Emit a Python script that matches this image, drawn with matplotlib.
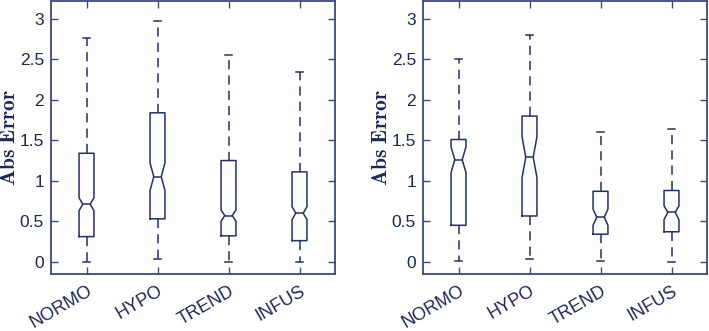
import matplotlib
matplotlib.use('Agg')
import matplotlib.pyplot as plt
from matplotlib.transforms import ScaledTranslation
from matplotlib.ticker import FormatStrFormatter

categories = ['NORMO', 'HYPO', 'TREND', 'INFUS']

# Left panel
left_whislo = [0.00, 0.03, 0.00, 0.00]
left_q1 = [0.31, 0.53, 0.32, 0.26]
left_cilo = [0.63, 0.88, 0.50, 0.52]
left_med = [0.71, 1.05, 0.57, 0.60]
left_cihi = [0.79, 1.22, 0.64, 0.68]
left_q3 = [1.34, 1.84, 1.25, 1.11]
left_whishi = [2.76, 2.975, 2.56, 2.34]

# Right panel
right_whislo = [0.01, 0.03, 0.01, 0.00]
right_q1 = [0.45, 0.565, 0.34, 0.37]
right_cilo = [1.10, 1.04, 0.45, 0.52]
right_med = [1.26, 1.29, 0.55, 0.61]
right_cihi = [1.42, 1.545, 0.65, 0.69]
right_q3 = [1.51, 1.80, 0.87, 0.88]
right_whishi = [2.505, 2.806, 1.607, 1.64]

yticks = [0, 0.5, 1, 1.5, 2, 2.5, 3]

plt.rcParams['mathtext.fontset'] = 'cm'
plt.rcParams['font.family'] = ['Liberation Sans', 'DejaVu Sans']

box_col = '#22306c'
frame_col = '#3a4886'
text_col = '#1c2659'

W, H = 709, 331
fig = plt.figure(figsize=(W / 100, H / 100), dpi=100)


def make_stats(wlo, q1, clo, med, chi, q3, whi):
    out = []
    for i in range(len(med)):
        out.append(dict(whislo=wlo[i], q1=q1[i], cilo=clo[i], med=med[i],
                        cihi=chi[i], q3=q3[i], whishi=whi[i], fliers=[]))
    return out


def draw(ax, stats):
    pos = list(range(1, len(categories) + 1))
    ax.bxp(stats, positions=pos, widths=0.21, capwidths=0.1, shownotches=True,
           showfliers=False,
           boxprops=dict(color=box_col, linewidth=1.1),
           medianprops=dict(color=box_col, linewidth=1.1),
           whiskerprops=dict(color=box_col, linewidth=1.1, linestyle=(0, (6, 4))),
           capprops=dict(color=box_col, linewidth=1.1))
    ax.set_xlim(0.5, 4.5)
    ax.set_ylim(-0.152, 3.222)
    ax.set_yticks(yticks)
    ax.yaxis.set_major_formatter(FormatStrFormatter('%g'))
    ax.set_xticks(pos)
    ax.set_xticklabels(categories, rotation=30, ha='right', va='top',
                       rotation_mode='anchor', fontsize=13, color=text_col)
    for lab in ax.get_xticklabels():
        lab.set_transform(lab.get_transform() + ScaledTranslation(0.12, 0.0, fig.dpi_scale_trans))
    for lab in ax.get_yticklabels():
        lab.set_fontsize(12.5)
        lab.set_color(text_col)
    ax.tick_params(direction='in', top=True, right=True, length=5, width=1.0,
                   color=frame_col, pad=5)
    ax.tick_params(axis='x', pad=6)
    for sp in ax.spines.values():
        sp.set_color(frame_col)
        sp.set_linewidth(1.3)
    ax.set_ylabel(r'$\mathbf{Abs\ Error}$', fontsize=15.5, color=text_col)
    ax.yaxis.set_label_coords(-0.11, 0.5)


ax1 = fig.add_axes([51 / W, (H - 274) / H, 284 / W, 273 / H])
draw(ax1, make_stats(left_whislo, left_q1, left_cilo, left_med, left_cihi, left_q3, left_whishi))

ax2 = fig.add_axes([423 / W, (H - 274) / H, 284 / W, 273 / H])
draw(ax2, make_stats(right_whislo, right_q1, right_cilo, right_med, right_cihi, right_q3, right_whishi))

fig.savefig('out.png', dpi=100)
